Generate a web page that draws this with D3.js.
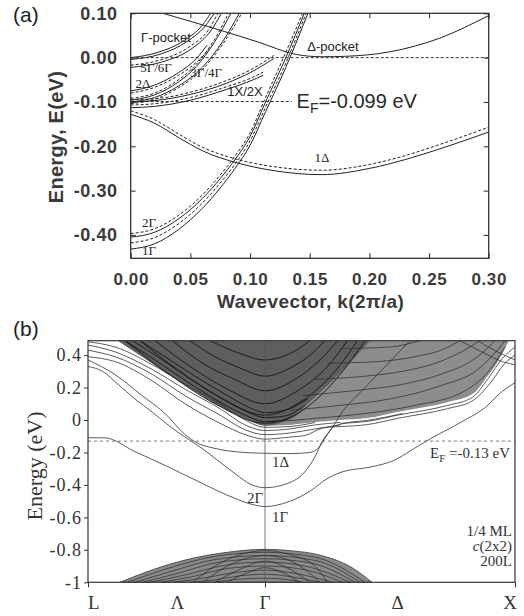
<!DOCTYPE html>
<html lang="en">
<head>
<meta charset="utf-8">
<title>Subband structure</title>
<script src="https://cdn.jsdelivr.net/npm/d3@7/dist/d3.min.js"></script>
<style>
  body { margin: 0; background: #fff; }
  svg { display: block; }
</style>
</head>
<body>
<svg id="chart" width="524" height="616"></svg>
<script>
const SANS = "'Liberation Sans', Arial, sans-serif";
const SERIF = "'Liberation Serif', 'Times New Roman', serif";

// ---- panel (a): subbands near Gamma, k in 2pi/a, E in eV
const kTicksA = [0, 0.05, 0.1, 0.15, 0.2, 0.25, 0.3];
const eTicksA = [0.1, 0, -0.1, -0.2, -0.3, -0.4];
const fermiA = -0.099;

const deltaPocket = [[0.027, 0.1], [0.06, 0.074], [0.107, 0.035], [0.139, 0.007], [0.16, 0.002], [0.18, 0.003], [0.217, 0.013], [0.259, 0.044], [0.3, 0.095]];
const gammaPocket1 = [[0, 0.0], [0.023, 0.012], [0.045, 0.039], [0.06, 0.073], [0.067, 0.1]];
const gammaPocket2 = [[0, -0.004], [0.025, 0.008], [0.047, 0.036], [0.062, 0.07], [0.07, 0.1]];
const gamma56a = [[0, -0.017], [0.025, -0.005], [0.05, 0.026], [0.065, 0.062], [0.073, 0.1]];
const gamma56b = [[0, -0.022], [0.026, -0.01], [0.052, 0.022], [0.067, 0.06], [0.076, 0.1]];
const delta2a = [[0, -0.075], [0.02, -0.062], [0.04, -0.034], [0.055, -0.002], [0.064, 0.028]];
const delta2b = [[0, -0.08], [0.02, -0.067], [0.04, -0.04], [0.056, -0.008], [0.066, 0.02]];
const gamma34a = [[0, -0.092], [0.02, -0.08], [0.04, -0.05], [0.055, -0.015], [0.07, 0.04], [0.082, 0.1]];
const gamma34b = [[0, -0.096], [0.02, -0.084], [0.04, -0.055], [0.055, -0.02], [0.07, 0.034], [0.084, 0.1]];
const gamma34c = [[0, -0.1], [0.02, -0.09], [0.04, -0.064], [0.06, -0.022], [0.077, 0.036], [0.091, 0.1]];
const gamma34d = [[0, -0.104], [0.02, -0.094], [0.04, -0.068], [0.06, -0.027], [0.077, 0.03], [0.093, 0.1]];
const x12a = [[0, -0.095], [0.02, -0.093], [0.05, -0.078], [0.08, -0.052], [0.1, -0.028], [0.12, 0.005]];
const x12b = [[0, -0.1], [0.02, -0.097], [0.05, -0.083], [0.08, -0.058], [0.1, -0.034], [0.12, -0.002]];
const x12c = [[0, -0.107], [0.02, -0.104], [0.05, -0.09], [0.08, -0.066], [0.1, -0.047], [0.111, -0.033]];
const x12d = [[0, -0.113], [0.02, -0.11], [0.05, -0.096], [0.08, -0.072], [0.1, -0.053], [0.111, -0.04]];
const gamma2Dash = [[0, -0.397], [0.02, -0.386], [0.04, -0.356], [0.06, -0.31], [0.075, -0.265], [0.0874, -0.222], [0.1, -0.17], [0.113, -0.09], [0.13, 0.012], [0.144, 0.1]];
const gamma2Solid = [[0, -0.405], [0.02, -0.394], [0.04, -0.364], [0.06, -0.318], [0.075, -0.273], [0.0874, -0.23], [0.1, -0.178], [0.113, -0.1], [0.13, 0.0], [0.1455, 0.1]];
const gamma1Dash = [[0, -0.418], [0.02, -0.406], [0.04, -0.375], [0.06, -0.328], [0.075, -0.283], [0.0874, -0.24], [0.1, -0.188], [0.113, -0.112], [0.13, -0.012], [0.147, 0.1]];
const gamma1Solid = [[0, -0.432], [0.02, -0.42], [0.04, -0.388], [0.06, -0.34], [0.075, -0.294], [0.0874, -0.25], [0.1, -0.198], [0.113, -0.122], [0.13, -0.022], [0.1485, 0.1]];
const delta1Solid = [[0, -0.128], [0.02, -0.148], [0.04, -0.18], [0.06, -0.21], [0.09, -0.238], [0.12, -0.255], [0.16, -0.264], [0.2, -0.25], [0.23, -0.23], [0.26, -0.205], [0.3, -0.168]];
const delta1Dash = [[0, -0.12], [0.02, -0.14], [0.04, -0.172], [0.06, -0.202], [0.09, -0.23], [0.12, -0.246], [0.16, -0.254], [0.2, -0.241], [0.23, -0.221], [0.26, -0.195], [0.3, -0.157]];

const solidA = [deltaPocket, gammaPocket1, gammaPocket2, gamma56b, delta2a, gamma34b, gamma34c,
  x12b, x12d, gamma2Solid, gamma1Solid, delta1Solid];
const dashedA = [gamma56a, delta2b, gamma34a, gamma34d, x12a, x12c, gamma2Dash, gamma1Dash, delta1Dash];

const labelsA = [
  { text: 'Γ-pocket', k: 0.0087, e: 0.035, font: 'sans' },
  { text: 'Δ-pocket', k: 0.148, e: 0.015, font: 'sans' },
  { text: '5Γ/6Γ', k: 0.008, e: -0.033, font: 'serif' },
  { text: '3Γ/4Γ', k: 0.05, e: -0.044, font: 'serif' },
  { text: '2Δ', k: 0.004, e: -0.069, font: 'serif' },
  { text: '1X/2X', k: 0.081, e: -0.087, font: 'sans' },
  { text: '1Δ', k: 0.154, e: -0.236, font: 'serif' },
  { text: '2Γ', k: 0.0095, e: -0.383, font: 'serif' },
  { text: '1Γ', k: 0.0095, e: -0.446, font: 'serif' },
];

// ---- panel (b): full band structure along L - Gamma - X
const pathNames = ['L', 'Λ', 'Γ', 'Δ', 'X'];
const pathPoints = [-0.708, -0.35, 0, 0.53, 1];
const pathMarks = [-0.708, 0, 1];
const eTicksB = [0.4, 0.2, 0, -0.2, -0.4, -0.6, -0.8, -1];
const fermiB = -0.13;

const band1Gamma = [[-0.708, -0.109], [-0.64, -0.11], [-0.52, -0.195], [-0.388, -0.288], [-0.252, -0.39], [-0.12, -0.483], [-0.052, -0.52], [0, -0.533],
  [0.092, -0.505], [0.188, -0.43], [0.24, -0.37], [0.308, -0.32], [0.428, -0.288], [0.52, -0.246], [0.6, -0.172], [0.668, -0.11], [0.788, -0.01], [0.892, 0.092], [0.932, 0.154], [1, 0.23]];
const band2Gamma = [[-0.708, 0.33], [-0.65, 0.3], [-0.588, 0.22], [-0.52, 0.13], [-0.452, 0.05], [-0.388, -0.03], [-0.32, -0.105], [-0.252, -0.175], [-0.188, -0.25], [-0.12, -0.33], [-0.052, -0.4], [0, -0.417],
  [0.092, -0.39], [0.16, -0.318], [0.2, -0.226], [0.228, -0.134], [0.268, -0.05], [0.3, 0.03], [0.4, 0.2], [0.5, 0.36], [0.58, 0.489]];
const band1Delta = [[-0.708, 0.37], [-0.6, 0.28], [-0.5, 0.16], [-0.4, 0.04], [-0.32, -0.09], [-0.28, -0.134], [-0.2, -0.175], [-0.12, -0.195], [0, -0.205],
  [0.1, -0.207], [0.18, -0.2], [0.215, -0.17], [0.245, -0.1], [0.27, -0.045], [0.32, -0.02], [0.42, 0.0], [0.55, 0.04]];
const lowL1 = [[-0.708, 0.39], [-0.6, 0.36], [-0.45, 0.24], [-0.32, 0.1], [-0.18, -0.02], [-0.08, -0.09], [0, -0.118], [0.1, -0.105], [0.16, -0.095], [0.23, -0.05], [0.3, -0.04]];
const lowL2 = [[-0.708, 0.43], [-0.6, 0.39], [-0.45, 0.28], [-0.32, 0.15], [-0.18, 0.03], [-0.08, -0.06], [0, -0.09], [0.1, -0.08], [0.2, -0.055], [0.3, -0.03]];
const lowL3 = [[-0.708, 0.462], [-0.6, 0.42], [-0.45, 0.31], [-0.32, 0.19], [-0.18, 0.07], [-0.08, -0.03], [0, -0.065], [0.1, -0.055], [0.2, -0.03], [0.3, -0.015]];
const lowL4 = [[-0.708, 0.482], [-0.6, 0.45], [-0.45, 0.34], [-0.32, 0.22], [-0.18, 0.1], [-0.08, 0.0], [0, -0.045], [0.1, -0.04], [0.2, -0.015]];
const contLower = [[-0.588, 0.489], [-0.452, 0.35], [-0.32, 0.216], [-0.188, 0.09], [-0.08, 0.01], [0, -0.035], [0.1, -0.03], [0.2, -0.012], [0.3, 0.0], [0.41, 0.012], [0.53, 0.05], [0.73, 0.11], [0.83, 0.16], [0.89, 0.27], [0.95, 0.41], [0.975, 0.489]];
const denseEdge = [[-0.588, 0.489], [-0.452, 0.35], [-0.32, 0.216], [-0.188, 0.09], [-0.08, 0.01], [0, -0.035], [0.06, -0.02], [0.13, 0.05], [0.2, 0.14], [0.3, 0.29], [0.42, 0.489]];
const edgeBand1 = [[-0.56, 0.489], [-0.44, 0.37], [-0.31, 0.235], [-0.18, 0.11], [-0.08, 0.03], [0, -0.01], [0.08, 0.0], [0.15, 0.06]];
const edgeBand2 = [[-0.53, 0.489], [-0.42, 0.38], [-0.3, 0.255], [-0.17, 0.13], [-0.07, 0.05], [0, 0.015], [0.08, 0.025], [0.16, 0.09]];
const edgeBand3 = [[-0.5, 0.489], [-0.4, 0.39], [-0.28, 0.27], [-0.15, 0.15], [-0.06, 0.075], [0, 0.045], [0.08, 0.06], [0.17, 0.13]];
const vBand1 = [[-0.56, 0.489], [-0.4, 0.3], [-0.2, 0.1], [0, -0.02], [0.15, 0.06], [0.3, 0.28], [0.4, 0.489]];
const vBand2 = [[-0.5, 0.489], [-0.35, 0.31], [-0.18, 0.14], [0, 0.03], [0.15, 0.12], [0.28, 0.3], [0.37, 0.489]];
const vBand3 = [[-0.44, 0.489], [-0.3, 0.33], [-0.15, 0.19], [0, 0.1], [0.13, 0.18], [0.25, 0.33], [0.33, 0.489]];
const vBand4 = [[-0.37, 0.489], [-0.25, 0.35], [-0.12, 0.25], [0, 0.18], [0.12, 0.25], [0.22, 0.37], [0.29, 0.489]];
const vBand5 = [[-0.3, 0.489], [-0.2, 0.39], [-0.1, 0.32], [0, 0.27], [0.1, 0.32], [0.18, 0.4], [0.24, 0.489]];
const vBand6 = [[-0.22, 0.489], [-0.1, 0.41], [0, 0.37], [0.1, 0.41], [0.18, 0.489]];
const fBand1 = [[0.05, -0.01], [0.2, 0.01], [0.4, 0.04], [0.6, 0.09], [0.8, 0.18], [0.9, 0.31], [0.96, 0.45]];
const fBand2 = [[0.1, 0.06], [0.3, 0.09], [0.5, 0.13], [0.7, 0.21], [0.85, 0.31], [0.94, 0.45], [0.96, 0.489]];
const fBand3 = [[0.15, 0.15], [0.35, 0.18], [0.55, 0.22], [0.7, 0.28], [0.85, 0.39], [0.92, 0.489]];
const fBand4 = [[0.2, 0.25], [0.4, 0.27], [0.55, 0.3], [0.7, 0.36], [0.82, 0.45], [0.86, 0.489]];
const fBand5 = [[0.25, 0.35], [0.45, 0.36], [0.6, 0.39], [0.72, 0.44], [0.78, 0.489]];
const fBand6 = [[0.3, 0.44], [0.5, 0.45], [0.62, 0.489]];
const gapBand1 = [[0.3, -0.02], [0.41, -0.008], [0.53, 0.03], [0.73, 0.09], [0.83, 0.14], [0.89, 0.25], [0.95, 0.38], [1, 0.45]];
const gapBand2 = [[0.3, -0.04], [0.41, -0.028], [0.53, 0.01], [0.73, 0.07], [0.83, 0.118], [0.9, 0.225], [0.96, 0.35], [1, 0.4]];
const xBand1 = [[0.78, 0.489], [0.88, 0.41], [0.95, 0.36], [1, 0.34]];
const xBand2 = [[0.85, 0.489], [0.93, 0.42], [1, 0.37]];
const domeTop = [[-0.58, -1], [-0.452, -0.924], [-0.32, -0.863], [-0.15, -0.815], [0, -0.797], [0.1, -0.805], [0.212, -0.83], [0.348, -0.91], [0.428, -1]];
const arc1 = [[-0.55, -1], [-0.4, -0.92], [-0.2, -0.84], [0, -0.815], [0.2, -0.845], [0.4, -1]];
const arc2 = [[-0.52, -1], [-0.38, -0.935], [-0.2, -0.86], [0, -0.835], [0.2, -0.865], [0.38, -1]];
const arc3 = [[-0.49, -1], [-0.35, -0.945], [-0.18, -0.875], [0, -0.855], [0.18, -0.88], [0.36, -1]];
const arc4 = [[-0.46, -1], [-0.32, -0.955], [-0.16, -0.895], [0, -0.875], [0.16, -0.9], [0.34, -1]];
const arc5 = [[-0.42, -1], [-0.29, -0.965], [-0.15, -0.915], [0, -0.9], [0.15, -0.92], [0.31, -1]];
const arc6 = [[-0.37, -1], [-0.25, -0.975], [-0.12, -0.94], [0, -0.925], [0.12, -0.945], [0.27, -1]];
const arc7 = [[-0.3, -1], [-0.2, -0.985], [-0.1, -0.96], [0, -0.95], [0.1, -0.965], [0.22, -1]];
const arc8 = [[-0.2, -1], [-0.1, -0.98], [0, -0.975], [0.1, -0.985], [0.15, -1]];
const innerArc1 = [[-0.29, -1], [-0.2, -0.9], [-0.1, -0.83], [0, -0.805], [0.1, -0.83], [0.2, -0.9], [0.25, -1]];
const innerArc2 = [[-0.25, -1], [-0.15, -0.9], [-0.07, -0.85], [0, -0.835], [0.07, -0.85], [0.15, -0.91], [0.22, -1]];
const innerArc3 = [[-0.2, -1], [-0.1, -0.92], [0, -0.87], [0.1, -0.92], [0.18, -1]];
const innerArc4 = [[-0.15, -1], [-0.07, -0.94], [0, -0.91], [0.07, -0.94], [0.14, -1]];

const linesB = [band1Gamma, band2Gamma, band1Delta, lowL1, lowL2, lowL3, lowL4,
  fBand1, fBand2, fBand3, fBand4, fBand5, fBand6, gapBand1, gapBand2, xBand1, xBand2];
const denseLinesB = [edgeBand1, edgeBand2, edgeBand3, vBand1, vBand2, vBand3, vBand4, vBand5, vBand6];
const arcsB = [arc1, arc2, arc3, arc4, arc5, arc6, arc7, arc8, innerArc1, innerArc2, innerArc3, innerArc4];

const labelsB = [
  { text: '1Δ', k: 0.028, e: -0.29 },
  { text: '2Γ', k: -0.072, e: -0.511 },
  { text: '1Γ', k: 0.028, e: -0.628 },
];
const sampleNotes = ['1/4 ML', 'c(2x2)', '200L'];

const svg = d3.select('#chart');

drawPanelA();
drawPanelB();

function drawPanelA() {
  const left = 130.7, right = 488.7, top = 13.3, bottom = 258.3;
  const x = d3.scaleLinear().domain([0, 0.3]).range([left, right]);
  const y = d3.scaleLinear().domain([-0.4527, 0.1]).range([bottom, top]);
  const g = svg.append('g');

  g.append('clipPath').attr('id', 'clipA')
    .append('rect').attr('x', left).attr('y', top)
    .attr('width', right - left).attr('height', bottom - top);

  const line = d3.line().x((d) => x(d[0])).y((d) => y(d[1])).curve(d3.curveMonotoneX);
  const plot = g.append('g').attr('clip-path', 'url(#clipA)');

  plot.append('line')
    .attr('x1', x(0)).attr('x2', x(0.3)).attr('y1', y(0)).attr('y2', y(0))
    .attr('stroke', '#333').attr('stroke-width', 1).attr('stroke-dasharray', '3,2');
  plot.append('line')
    .attr('x1', x(0)).attr('x2', x(0.135)).attr('y1', y(fermiA)).attr('y2', y(fermiA))
    .attr('stroke', '#333').attr('stroke-width', 1).attr('stroke-dasharray', '3,2');

  plot.selectAll('path.solid').data(solidA).enter().append('path')
    .attr('class', 'solid').attr('d', line)
    .attr('fill', 'none').attr('stroke', '#222').attr('stroke-width', 1);
  plot.selectAll('path.dashed').data(dashedA).enter().append('path')
    .attr('class', 'dashed').attr('d', line)
    .attr('fill', 'none').attr('stroke', '#222').attr('stroke-width', 1)
    .attr('stroke-dasharray', '3,2');

  g.selectAll('text.ann').data(labelsA).enter().append('text')
    .attr('class', 'ann')
    .attr('x', (d) => x(d.k)).attr('y', (d) => y(d.e))
    .attr('font-family', (d) => (d.font === 'sans' ? SANS : SERIF))
    .attr('font-size', 13).attr('fill', '#222')
    .text((d) => d.text);

  const ef = g.append('text').attr('x', x(0.139)).attr('y', y(-0.114))
    .attr('font-family', SANS).attr('font-size', 20).attr('fill', '#2a2a2a');
  ef.append('tspan').text('E');
  ef.append('tspan').attr('font-size', 14).attr('dy', 5).text('F');
  ef.append('tspan').attr('dy', -5).text('=-0.099 eV');

  const styleAxis = (sel, size) => {
    sel.select('.domain').remove();
    sel.attr('font-family', SANS).attr('font-size', size).attr('color', '#3a3a3a')
      .attr('font-weight', 'bold');
    sel.selectAll('line').attr('stroke-width', 1.1);
  };

  g.append('g').attr('transform', `translate(${left},0)`)
    .call(d3.axisLeft(y).tickValues(eTicksA).tickSize(-5).tickPadding(13).tickFormat((d) => d.toFixed(2)))
    .call(styleAxis, 18)
    .selectAll('text').attr('letter-spacing', 0.6);
  g.append('g').attr('transform', `translate(${right},0)`)
    .call(d3.axisRight(y).tickValues(eTicksA).tickSize(-5).tickFormat(''))
    .call(styleAxis, 18);
  g.append('g').attr('transform', `translate(0,${bottom})`)
    .call(d3.axisBottom(x).tickValues(kTicksA).tickSize(-5).tickPadding(15).tickFormat((d) => d.toFixed(2)))
    .call(styleAxis, 17)
    .selectAll('text').attr('letter-spacing', 0.6);
  g.append('g').attr('transform', `translate(0,${top})`)
    .call(d3.axisTop(x).tickValues(kTicksA).tickSize(-5).tickFormat(''))
    .call(styleAxis, 18);

  g.append('rect').attr('x', left).attr('y', top)
    .attr('width', right - left).attr('height', bottom - top)
    .attr('fill', 'none').attr('stroke', '#333').attr('stroke-width', 1.3);

  g.append('text').attr('x', (left + right) / 2 + 1).attr('y', 308)
    .attr('text-anchor', 'middle').attr('font-family', SANS).attr('font-size', 19)
    .attr('font-weight', 'bold').attr('fill', '#3a3a3a').attr('letter-spacing', 0.4)
    .text('Wavevector, k(2π/a)');
  g.append('text').attr('transform', 'translate(63,137) rotate(-90)')
    .attr('text-anchor', 'middle').attr('font-family', SANS).attr('font-size', 20)
    .attr('font-weight', 'bold').attr('fill', '#3a3a3a').attr('letter-spacing', 0.3)
    .text('Energy, E(eV)');
  g.append('text').attr('x', 13).attr('y', 22)
    .attr('font-family', SANS).attr('font-size', 21).attr('fill', '#222').text('(a)');
}

function drawPanelB() {
  const left = 88, right = 515, top = 340.7, bottom = 582.3;
  const x = d3.scaleLinear().domain([-0.708, 1]).range([left, right]);
  const y = d3.scaleLinear().domain([-1, 0.4887]).range([bottom, top]);
  const g = svg.append('g');

  g.append('clipPath').attr('id', 'clipB')
    .append('rect').attr('x', left).attr('y', top)
    .attr('width', right - left).attr('height', bottom - top);

  const line = d3.line().x((d) => x(d[0])).y((d) => y(d[1])).curve(d3.curveMonotoneX);
  const plot = g.append('g').attr('clip-path', 'url(#clipB)');

  // conduction continuum: lighter grey towards X, dense mesh near Gamma
  plot.append('path').attr('d', line(contLower) + 'Z').attr('fill', '#8d8d8d');
  plot.append('path').attr('d', line(denseEdge) + 'Z').attr('fill', '#5e5e5e');
  // valence continuum
  plot.append('path').attr('d', line(domeTop) + 'Z').attr('fill', '#8a8a8a')
    .attr('stroke', '#333').attr('stroke-width', 0.8);

  plot.selectAll('path.arc').data(arcsB).enter().append('path')
    .attr('class', 'arc').attr('d', line)
    .attr('fill', 'none').attr('stroke', '#2a2a2a').attr('stroke-width', 0.7);

  plot.selectAll('path.dense').data(denseLinesB).enter().append('path')
    .attr('class', 'dense').attr('d', line)
    .attr('fill', 'none').attr('stroke', '#151515').attr('stroke-width', 0.9);

  plot.selectAll('path.band').data(linesB).enter().append('path')
    .attr('class', 'band').attr('d', line)
    .attr('fill', 'none').attr('stroke', '#333').attr('stroke-width', 0.8);

  plot.append('line')
    .attr('x1', x(0)).attr('x2', x(0)).attr('y1', top).attr('y2', bottom)
    .attr('stroke', '#555').attr('stroke-width', 0.8);
  plot.append('line')
    .attr('x1', left).attr('x2', right).attr('y1', y(fermiB)).attr('y2', y(fermiB))
    .attr('stroke', '#555').attr('stroke-width', 0.8).attr('stroke-dasharray', '3,3');

  g.append('rect').attr('x', left).attr('y', top)
    .attr('width', right - left).attr('height', bottom - top)
    .attr('fill', 'none').attr('stroke', '#333').attr('stroke-width', 1.2);

  const styleAxis = (sel) => {
    sel.select('.domain').remove();
    sel.attr('font-family', SERIF).attr('font-size', 18).attr('color', '#333');
  };

  g.append('g').attr('transform', `translate(${left},0)`)
    .call(d3.axisLeft(y).tickValues(eTicksB).tickSize(4).tickPadding(2).tickFormat((d) => String(d)))
    .call(styleAxis)
    .selectAll('text').attr('letter-spacing', 1);

  g.append('g').attr('transform', `translate(0,${bottom})`)
    .call(d3.axisBottom(x).tickValues(pathMarks).tickSize(5).tickFormat(''))
    .call(styleAxis);

  g.selectAll('text.sym').data(pathNames).enter().append('text')
    .attr('class', 'sym')
    .attr('x', (d, i) => x(pathPoints[i]) + (i === pathNames.length - 1 ? 2 : 0))
    .attr('y', 609)
    .attr('text-anchor', (d, i) => (i === 0 ? 'start' : i === pathNames.length - 1 ? 'end' : 'middle'))
    .attr('font-family', SERIF).attr('font-size', 19).attr('fill', '#333')
    .text((d) => d);

  g.selectAll('text.ann').data(labelsB).enter().append('text')
    .attr('class', 'ann')
    .attr('x', (d) => x(d.k)).attr('y', (d) => y(d.e))
    .attr('font-family', SERIF).attr('font-size', 15).attr('fill', '#333')
    .text((d) => d.text);

  const ef = g.append('text').attr('x', 510).attr('y', 458).attr('text-anchor', 'end')
    .attr('font-family', SERIF).attr('font-size', 15).attr('fill', '#333');
  ef.append('tspan').text('E');
  ef.append('tspan').attr('font-size', 11).attr('dy', 4).text('F');
  ef.append('tspan').attr('dy', -4).text(' =-0.13 eV');

  const notes = g.append('text').attr('text-anchor', 'end')
    .attr('font-family', SERIF).attr('font-size', 15).attr('fill', '#333');
  sampleNotes.forEach((t, i) => {
    const ts = notes.append('tspan').attr('x', 512).attr('y', 536 + i * 15);
    if (t.startsWith('c(')) {
      ts.append('tspan').attr('font-style', 'italic').text('c');
      ts.append('tspan').text(t.slice(1));
    } else {
      ts.text(t);
    }
  });

  g.append('text').attr('transform', 'translate(42,466) rotate(-90)')
    .attr('text-anchor', 'middle').attr('font-family', SERIF).attr('font-size', 22)
    .attr('fill', '#333').text('Energy (eV)');
  g.append('text').attr('x', 13).attr('y', 336)
    .attr('font-family', SANS).attr('font-size', 21).attr('fill', '#222').text('(b)');
}
</script>
</body>
</html>
